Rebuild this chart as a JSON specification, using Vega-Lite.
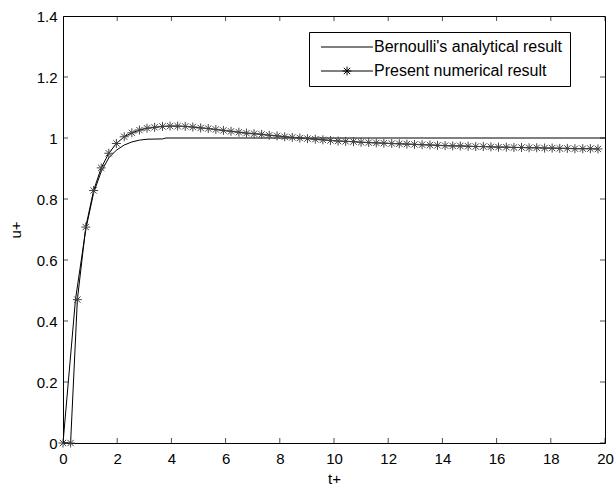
{
  "$schema": "https://vega.github.io/schema/vega-lite/v6.json",
  "width": 542,
  "height": 427,
  "autosize": {"type": "none"},
  "padding": {"left": 63, "top": 16, "right": 10, "bottom": 42},
  "background": "white",
  "config": {
    "view": {"stroke": "black", "strokeWidth": 1},
    "font": "Liberation Sans",
    "axis": {
      "grid": false,
      "domain": false,
      "ticks": false,
      "labelFont": "Liberation Sans",
      "labelFontSize": 15,
      "labelColor": "black",
      "titleFont": "Liberation Sans",
      "titleFontSize": 15,
      "titleFontWeight": "normal",
      "titleColor": "black"
    },
    "legend": {
      "orient": "none",
      "legendX": 246,
      "legendY": 16,
      "strokeColor": "black",
      "fillColor": "white",
      "padding": 7,
      "rowPadding": 8,
      "symbolType": "M-13,0H13",
      "symbolSize": 16,
      "symbolStrokeWidth": 1,
      "symbolStrokeColor": "black",
      "symbolFillColor": "transparent",
      "symbolOffset": 23,
      "labelOffset": 19,
      "labelFont": "Liberation Sans",
      "labelFontSize": 16,
      "labelColor": "black",
      "labelLimit": 400
    }
  },
  "datasets": {
    "xticks": [{"v": 0}, {"v": 2}, {"v": 4}, {"v": 6}, {"v": 8}, {"v": 10}, {"v": 12}, {"v": 14}, {"v": 16}, {"v": 18}, {"v": 20}],
    "yticks": [{"v": 0}, {"v": 0.2}, {"v": 0.4}, {"v": 0.6}, {"v": 0.8}, {"v": 1}, {"v": 1.2}, {"v": 1.4}],
    "curves": [
      {"t": 0, "u": 0, "series": "Bernoulli's analytical result"},
      {"t": 0.46, "u": 0.47, "series": "Bernoulli's analytical result"},
      {"t": 0.84, "u": 0.7, "series": "Bernoulli's analytical result"},
      {"t": 1.13, "u": 0.82, "series": "Bernoulli's analytical result"},
      {"t": 1.41, "u": 0.89, "series": "Bernoulli's analytical result"},
      {"t": 1.69, "u": 0.935, "series": "Bernoulli's analytical result"},
      {"t": 1.97, "u": 0.96, "series": "Bernoulli's analytical result"},
      {"t": 2.26, "u": 0.977, "series": "Bernoulli's analytical result"},
      {"t": 2.54, "u": 0.987, "series": "Bernoulli's analytical result"},
      {"t": 2.82, "u": 0.993, "series": "Bernoulli's analytical result"},
      {"t": 3.1, "u": 0.996, "series": "Bernoulli's analytical result"},
      {"t": 3.67, "u": 0.997, "series": "Bernoulli's analytical result"},
      {"t": 3.8, "u": 1.0, "series": "Bernoulli's analytical result"},
      {"t": 20, "u": 1.0, "series": "Bernoulli's analytical result"},
      {"t": 0, "u": 0, "series": "Present numerical result"},
      {"t": 0.28, "u": 0, "series": "Present numerical result"},
      {"t": 0.53, "u": 0.47, "series": "Present numerical result"},
      {"t": 0.84, "u": 0.708, "series": "Present numerical result"},
      {"t": 1.13, "u": 0.828, "series": "Present numerical result"},
      {"t": 1.41, "u": 0.902, "series": "Present numerical result"},
      {"t": 1.69, "u": 0.95, "series": "Present numerical result"},
      {"t": 1.97, "u": 0.982, "series": "Present numerical result"},
      {"t": 2.26, "u": 1.004, "series": "Present numerical result"},
      {"t": 2.54, "u": 1.017, "series": "Present numerical result"},
      {"t": 2.82, "u": 1.026, "series": "Present numerical result"},
      {"t": 3.1, "u": 1.032, "series": "Present numerical result"},
      {"t": 3.38, "u": 1.035, "series": "Present numerical result"},
      {"t": 3.67, "u": 1.038, "series": "Present numerical result"},
      {"t": 3.95, "u": 1.039, "series": "Present numerical result"},
      {"t": 4.23, "u": 1.039, "series": "Present numerical result"},
      {"t": 4.51, "u": 1.038, "series": "Present numerical result"},
      {"t": 4.79, "u": 1.036, "series": "Present numerical result"},
      {"t": 5.08, "u": 1.033, "series": "Present numerical result"},
      {"t": 5.36, "u": 1.031, "series": "Present numerical result"},
      {"t": 5.64, "u": 1.028, "series": "Present numerical result"},
      {"t": 5.92, "u": 1.025, "series": "Present numerical result"},
      {"t": 6.2, "u": 1.022, "series": "Present numerical result"},
      {"t": 6.49, "u": 1.019, "series": "Present numerical result"},
      {"t": 6.77, "u": 1.016, "series": "Present numerical result"},
      {"t": 7.05, "u": 1.014, "series": "Present numerical result"},
      {"t": 7.33, "u": 1.012, "series": "Present numerical result"},
      {"t": 7.61, "u": 1.009, "series": "Present numerical result"},
      {"t": 7.9, "u": 1.007, "series": "Present numerical result"},
      {"t": 8.18, "u": 1.004, "series": "Present numerical result"},
      {"t": 8.46, "u": 1.002, "series": "Present numerical result"},
      {"t": 8.74, "u": 1.0, "series": "Present numerical result"},
      {"t": 9.02, "u": 0.998, "series": "Present numerical result"},
      {"t": 9.31, "u": 0.996, "series": "Present numerical result"},
      {"t": 9.59, "u": 0.994, "series": "Present numerical result"},
      {"t": 9.87, "u": 0.992, "series": "Present numerical result"},
      {"t": 10.15, "u": 0.99, "series": "Present numerical result"},
      {"t": 10.43, "u": 0.989, "series": "Present numerical result"},
      {"t": 10.72, "u": 0.988, "series": "Present numerical result"},
      {"t": 11.0, "u": 0.986, "series": "Present numerical result"},
      {"t": 11.28, "u": 0.985, "series": "Present numerical result"},
      {"t": 11.56, "u": 0.984, "series": "Present numerical result"},
      {"t": 11.84, "u": 0.983, "series": "Present numerical result"},
      {"t": 12.13, "u": 0.982, "series": "Present numerical result"},
      {"t": 12.41, "u": 0.981, "series": "Present numerical result"},
      {"t": 12.69, "u": 0.98, "series": "Present numerical result"},
      {"t": 12.97, "u": 0.979, "series": "Present numerical result"},
      {"t": 13.25, "u": 0.978, "series": "Present numerical result"},
      {"t": 13.54, "u": 0.977, "series": "Present numerical result"},
      {"t": 13.82, "u": 0.976, "series": "Present numerical result"},
      {"t": 14.1, "u": 0.975, "series": "Present numerical result"},
      {"t": 14.38, "u": 0.974, "series": "Present numerical result"},
      {"t": 14.66, "u": 0.974, "series": "Present numerical result"},
      {"t": 14.95, "u": 0.973, "series": "Present numerical result"},
      {"t": 15.23, "u": 0.972, "series": "Present numerical result"},
      {"t": 15.51, "u": 0.972, "series": "Present numerical result"},
      {"t": 15.79, "u": 0.971, "series": "Present numerical result"},
      {"t": 16.07, "u": 0.97, "series": "Present numerical result"},
      {"t": 16.36, "u": 0.97, "series": "Present numerical result"},
      {"t": 16.64, "u": 0.969, "series": "Present numerical result"},
      {"t": 16.92, "u": 0.969, "series": "Present numerical result"},
      {"t": 17.2, "u": 0.968, "series": "Present numerical result"},
      {"t": 17.48, "u": 0.968, "series": "Present numerical result"},
      {"t": 17.77, "u": 0.967, "series": "Present numerical result"},
      {"t": 18.05, "u": 0.967, "series": "Present numerical result"},
      {"t": 18.33, "u": 0.966, "series": "Present numerical result"},
      {"t": 18.61, "u": 0.966, "series": "Present numerical result"},
      {"t": 18.89, "u": 0.965, "series": "Present numerical result"},
      {"t": 19.18, "u": 0.965, "series": "Present numerical result"},
      {"t": 19.46, "u": 0.965, "series": "Present numerical result"},
      {"t": 19.74, "u": 0.964, "series": "Present numerical result"}
    ]
  },
  "layer": [
    {
      "data": {"name": "curves"},
      "mark": {"type": "line", "strokeWidth": 1, "clip": true},
      "encoding": {
        "x": {
          "field": "t", "type": "quantitative",
          "scale": {"domain": [0, 20], "nice": false, "zero": false},
          "axis": {"orient": "bottom", "title": "t+", "values": [0, 2, 4, 6, 8, 10, 12, 14, 16, 18, 20], "labelPadding": 8, "titlePadding": 5, "labelFlush": false}
        },
        "y": {
          "field": "u", "type": "quantitative",
          "scale": {"domain": [0, 1.4], "nice": false, "zero": false},
          "axis": {"orient": "left", "title": "u+", "values": [0, 0.2, 0.4, 0.6, 0.8, 1, 1.2, 1.4], "format": "~g", "labelPadding": 6, "titlePadding": 13, "labelFlush": false}
        },
        "color": {
          "field": "series", "type": "nominal",
          "scale": {"domain": ["Bernoulli's analytical result", "Present numerical result"], "range": ["black", "black"]},
          "legend": {
            "title": null,
            "encode": {
              "symbols": {
                "update": {
                  "shape": {"signal": "datum.value === 'Present numerical result' ? 'M-13,0H13M0,-2.2V2.2M-2.2,0H2.2M-1.6,-1.6L1.6,1.6M-1.6,1.6L1.6,-1.6' : 'M-13,0H13'"}
                }
              }
            }
          }
        }
      }
    },
    {
      "data": {"name": "curves"},
      "transform": [{"filter": "datum.series === 'Present numerical result'"}],
      "mark": {"type": "point", "shape": "M-1,0H1M0,-1V1M-0.7,-0.7L0.7,0.7M-0.7,0.7L0.7,-0.7", "size": 81, "filled": false, "stroke": "#444444", "strokeWidth": 1, "opacity": 1},
      "encoding": {
        "x": {"field": "t", "type": "quantitative", "axis": {"orient": "bottom", "title": "t+", "values": [0, 2, 4, 6, 8, 10, 12, 14, 16, 18, 20], "labelPadding": 8, "titlePadding": 5, "labelFlush": false}},
        "y": {"field": "u", "type": "quantitative", "axis": {"orient": "left", "title": "u+", "values": [0, 0.2, 0.4, 0.6, 0.8, 1, 1.2, 1.4], "format": "~g", "labelPadding": 6, "titlePadding": 13, "labelFlush": false}}
      }
    },
    {
      "data": {"name": "xticks"},
      "mark": {"type": "tick", "orient": "vertical", "size": 10, "thickness": 1, "color": "black", "clip": true},
      "encoding": {
        "x": {"field": "v", "type": "quantitative", "axis": {"orient": "bottom", "title": "t+", "values": [0, 2, 4, 6, 8, 10, 12, 14, 16, 18, 20], "labelPadding": 8, "titlePadding": 5, "labelFlush": false}},
        "y": {"datum": 0, "type": "quantitative", "axis": {"orient": "left", "title": "u+", "values": [0, 0.2, 0.4, 0.6, 0.8, 1, 1.2, 1.4], "format": "~g", "labelPadding": 6, "titlePadding": 13, "labelFlush": false}}
      }
    },
    {
      "data": {"name": "xticks"},
      "mark": {"type": "tick", "orient": "vertical", "size": 10, "thickness": 1, "color": "black", "clip": true},
      "encoding": {
        "x": {"field": "v", "type": "quantitative", "axis": {"orient": "bottom", "title": "t+", "values": [0, 2, 4, 6, 8, 10, 12, 14, 16, 18, 20], "labelPadding": 8, "titlePadding": 5, "labelFlush": false}},
        "y": {"datum": 1.4, "type": "quantitative", "axis": {"orient": "left", "title": "u+", "values": [0, 0.2, 0.4, 0.6, 0.8, 1, 1.2, 1.4], "format": "~g", "labelPadding": 6, "titlePadding": 13, "labelFlush": false}}
      }
    },
    {
      "data": {"name": "yticks"},
      "mark": {"type": "tick", "orient": "horizontal", "size": 10, "thickness": 1, "color": "black", "clip": true},
      "encoding": {
        "y": {"field": "v", "type": "quantitative", "axis": {"orient": "left", "title": "u+", "values": [0, 0.2, 0.4, 0.6, 0.8, 1, 1.2, 1.4], "format": "~g", "labelPadding": 6, "titlePadding": 13, "labelFlush": false}},
        "x": {"datum": 0, "type": "quantitative", "axis": {"orient": "bottom", "title": "t+", "values": [0, 2, 4, 6, 8, 10, 12, 14, 16, 18, 20], "labelPadding": 8, "titlePadding": 5, "labelFlush": false}}
      }
    },
    {
      "data": {"name": "yticks"},
      "mark": {"type": "tick", "orient": "horizontal", "size": 10, "thickness": 1, "color": "black", "clip": true},
      "encoding": {
        "y": {"field": "v", "type": "quantitative", "axis": {"orient": "left", "title": "u+", "values": [0, 0.2, 0.4, 0.6, 0.8, 1, 1.2, 1.4], "format": "~g", "labelPadding": 6, "titlePadding": 13, "labelFlush": false}},
        "x": {"datum": 20, "type": "quantitative", "axis": {"orient": "bottom", "title": "t+", "values": [0, 2, 4, 6, 8, 10, 12, 14, 16, 18, 20], "labelPadding": 8, "titlePadding": 5, "labelFlush": false}}
      }
    }
  ]
}
